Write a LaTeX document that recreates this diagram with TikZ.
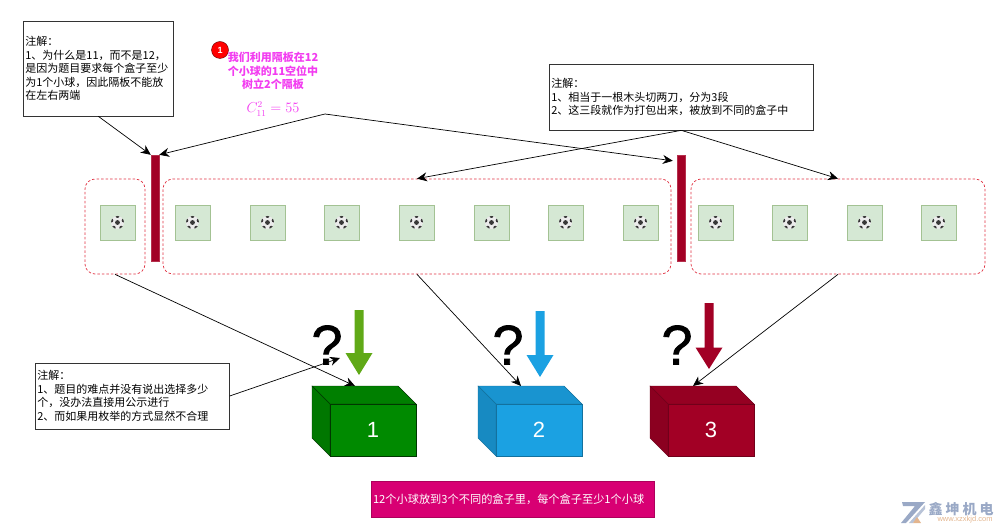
\documentclass[tikz,border=0pt]{standalone}
\usepackage{fontspec}
\setmainfont{Noto Sans CJK SC}
\newfontfamily\latinsans{Liberation Sans}
\newfontfamily\askfont[FakeBold=1.2]{Liberation Sans}
\usetikzlibrary{arrows.meta}
\definecolor{noteline}{HTML}{333333}
\definecolor{cellfill}{HTML}{D5E8D4}
\definecolor{cellline}{HTML}{A3C293}
\definecolor{groupline}{HTML}{E03040}
\definecolor{barred}{HTML}{A20025}
\definecolor{barline}{HTML}{B5304C}
\definecolor{pinktext}{HTML}{F23CF0}
\definecolor{boxgreen}{HTML}{008A00}
\definecolor{boxblue}{HTML}{1BA1E2}
\definecolor{arrowgreen}{HTML}{60A917}
\definecolor{banner}{HTML}{D80073}
\definecolor{markgrey}{HTML}{9AA9C6}
\definecolor{markorange}{HTML}{E3B58E}
\tikzset{
  noteitem/.style={draw=noteline,line width=0.7pt,fill=white,inner sep=2pt,align=left,anchor=west,font=\fontsize{11}{13.6}\selectfont},
  groupitem/.style={draw=groupline,line width=0.7pt,dash pattern=on 2.5pt off 2pt,rounded corners=10pt,minimum height=95pt},
  baritem/.style={fill=barred,draw=barline,line width=0.4pt,minimum width=8pt,minimum height=106pt,inner sep=0pt},
  lineitem/.style={-{Stealth[length=10pt,width=9pt]},line width=0.7pt,black},
  askitem/.style={font=\askfont\fontsize{56}{56}\selectfont},
  ballitem/.style={draw=cellline,fill=cellfill,line width=0.8pt,minimum size=35pt,inner sep=0pt,
    path picture={
      \begin{scope}
      \clip (path picture bounding box.center) circle (6.5pt);
      \fill[white!92!black] (path picture bounding box.center) circle (6.5pt);
      \fill[black!78] (path picture bounding box.center) circle (2.4pt);
      \foreach \a in {18,90,162,234,306}{
        \fill[black!78] ([shift={(\a:6.5pt)}]path picture bounding box.center) circle (2pt);
      }
      \end{scope}
    }},
  frontitem/.style={minimum width=86pt,minimum height=52pt,inner sep=0pt,text=white,font=\latinsans\fontsize{22}{22}\selectfont}
}
\newcommand{\cubeitem}[6]{
  \draw[draw=#5,line width=0.4pt,fill=#4!92!black] (#2-43,#3-26) -- ++(-18,-18) -- ++(86,0) -- ++(18,18) -- cycle;
  \draw[draw=#5,line width=0.4pt,fill=#4!86!black] (#2-43,#3-26) -- ++(-18,-18) -- ++(0,52) -- ++(18,18) -- cycle;
  \node[frontitem,draw=#5,line width=0.4pt,fill=#4] (#1) at (#2,#3) {#6};
  \coordinate (#1top) at (#2-18,#3-44);
}
\newcommand{\downitem}[5]{
  \fill[#5] (#1-4.5,#2) -- (#1+4.5,#2) -- (#1+4.5,#4) -- (#1+13.5,#4) -- (#1,#3) -- (#1-13.5,#4) -- (#1-4.5,#4) -- cycle;
}
\begin{document}
\begin{tikzpicture}[x=1pt,y=-1pt]
\useasboundingbox (0,0) rectangle (1000,526);
\node[noteitem,text width=146pt,minimum height=95pt] (noteleft) at (23,68.5) {注解：\\1、为什么是11，而不是12，\\是因为题目要求每个盒子至少\\为1个小球，因此隔板不能放\\在左右两端};
\node[noteitem,text width=260pt,minimum height=66pt] (noteright) at (549,97) {注解：\\1、相当于一根木头切两刀，分为3段\\2、这三段就作为打包出来，被放到不同的盒子中};
\node[noteitem,text width=190pt,minimum height=66pt] (notelow) at (35,396) {注解：\\1、题目的难点并没有说出选择多少\\个，没办法直接用公示进行\\2、而如果用枚举的方式显然不合理};
\node[fill=red,draw=black!60!red,circle,minimum size=17pt,inner sep=0pt,text=white,font=\latinsans\bfseries\fontsize{9}{9}\selectfont] (badge) at (220,50) {1};
\node[text=pinktext,align=center,inner sep=0pt,font=\bfseries\fontsize{11}{13.6}\selectfont] (pinknote) at (273,71) {我们利用隔板在12\\个小球的11空位中\\树立2个隔板};
\node[text=pinktext,inner sep=0pt,font=\fontsize{13.5}{13.5}\selectfont] (pinkmath) at (273,109) {$C_{11}^{2}=55$};
\coordinate (pinkfork) at (325,114);
\node[baritem] (barone) at (155,208) {};
\node[baritem] (bartwo) at (681,208) {};
\node[groupitem,minimum width=60pt] (groupone) at (115,226.5) {};
\node[groupitem,minimum width=508pt] (grouptwo) at (417,226.5) {};
\node[groupitem,minimum width=294pt] (groupthree) at (838,226.5) {};
\node[ballitem] (ballone) at (117.5,222.5) {};
\node[ballitem] (balltwo) at (192.5,222.5) {};
\node[ballitem] (ballthree) at (267.5,222.5) {};
\node[ballitem] (ballfour) at (341.5,222.5) {};
\node[ballitem] (ballfive) at (416.5,222.5) {};
\node[ballitem] (ballsix) at (491.5,222.5) {};
\node[ballitem] (ballseven) at (565.5,222.5) {};
\node[ballitem] (balleight) at (640.5,222.5) {};
\node[ballitem] (ballnine) at (715.5,222.5) {};
\node[ballitem] (ballten) at (789.5,222.5) {};
\node[ballitem] (balleleven) at (864.5,222.5) {};
\node[ballitem] (balltwelve) at (938.5,222.5) {};
\cubeitem{boxone}{373}{430}{boxgreen}{black!60!boxgreen}{1}
\cubeitem{boxtwo}{539}{430}{boxblue}{boxblue!70!black}{2}
\cubeitem{boxthree}{711}{430}{barred}{barred!70!black}{3}
\downitem{359}{310}{375}{353}{arrowgreen}
\downitem{540}{311}{377}{355}{boxblue}
\downitem{709}{303}{369}{347.5}{barred}
\node[askitem] (askone) at (327,345) {?};
\node[askitem] (asktwo) at (508,345) {?};
\node[askitem] (askthree) at (677,345) {?};
\node[fill=banner,draw=banner!80!black,text width=279pt,inner xsep=2pt,minimum height=36pt,align=left,text=white,font=\fontsize{11.2}{13}\selectfont] (bannerbox) at (512.5,499) {12个小球放到3个不同的盒子里，每个盒子至少1个小球};
\draw[lineitem] (noteleft.south) -- (barone.north west);
\draw[lineitem] (pinkfork) -- (barone.north east);
\draw[lineitem] (pinkfork) -- ([xshift=-4pt,yshift=-6pt]bartwo.north west);
\draw[lineitem] (noteright.south) -- (grouptwo.north);
\draw[lineitem] (noteright.south) -- (groupthree.north);
\draw[lineitem] (notelow.east) -- ([xshift=13pt,yshift=-13pt]askone.center);
\draw[lineitem] (groupone.south) -- (boxonetop);
\draw[lineitem] (grouptwo.south) -- (boxtwotop);
\draw[lineitem] (groupthree.south) -- (boxthreetop);
\node[text=markgrey,inner sep=0pt,font=\bfseries\fontsize{14}{14}\selectfont] (markname) at (961,509) {鑫\hspace{3pt}坤\hspace{3pt}机\hspace{3pt}电};
\node[text=markorange,inner sep=0pt,font=\latinsans\fontsize{7.5}{7.5}\selectfont] (markurl) at (965,520) {www.xzxkjd.com};
\fill[markgrey] (902,502) -- (925,502) -- (906,523) -- (901,523) -- (915,506) -- (903,506) -- cycle;
\fill[markgrey!70] (925,505) -- (925,509) -- (913,523) -- (909,523) -- cycle;
\fill[markorange] (917,517) -- (921,523) -- (913,523) -- cycle;
\end{tikzpicture}
\end{document}
